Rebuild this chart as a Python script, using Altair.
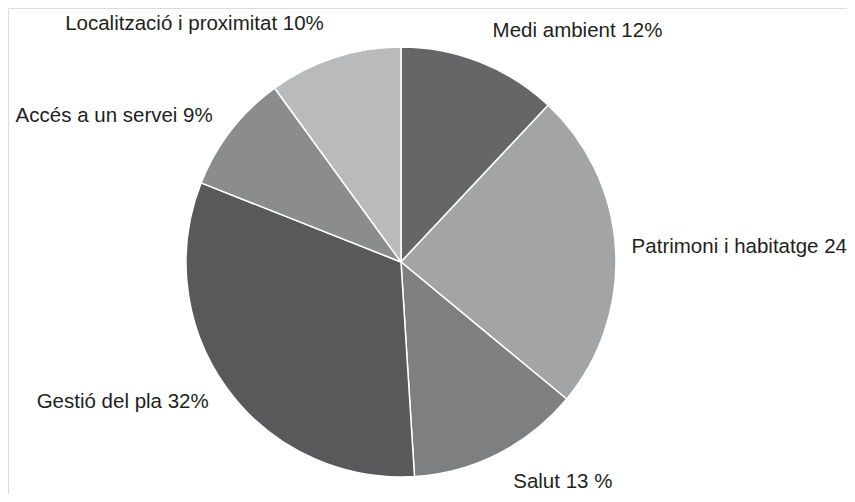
import altair as alt
import pandas as pd

categories = ["Medi ambient", "Patrimoni i habitatge", "Salut", "Gestió del pla",
              "Accés a un servei", "Localització i proximitat"]
values = [12, 24, 13, 32, 9, 10]
labels = ["Medi ambient 12%", "Patrimoni i habitatge 24", "Salut 13 %",
          "Gestió del pla 32%", "Accés a un servei 9%", "Localització i proximitat 10%"]
colors = ["#666668", "#a3a4a6", "#7e7f81", "#59595b", "#8b8c8e", "#b9babc"]

df = pd.DataFrame({
    "cat": categories,
    "value": values,
    "label": labels,
    "idx": list(range(len(categories))),
})

pie = alt.Chart(df).mark_arc(outerRadius=215, stroke="white", strokeWidth=1.5).encode(
    theta=alt.Theta("value:Q", stack=True),
    order=alt.Order("idx:Q"),
    x=alt.value(393),
    y=alt.value(254),
    color=alt.Color("cat:N", scale=alt.Scale(domain=categories, range=colors), legend=None),
)

text = alt.Chart(df).transform_joinaggregate(
    total="sum(value)"
).transform_window(
    cum="sum(value)", sort=[alt.SortField("idx")]
).transform_calculate(
    mid="(datum.cum - datum.value / 2) / datum.total"
).transform_calculate(
    ang="2 * PI * datum.mid",
    # labels placed on an ellipse around the pie
    lr="1 / sqrt(pow(sin(2 * PI * datum.mid) / 231, 2) + pow(cos(2 * PI * datum.mid) / 252, 2))",
).mark_text(
    font="Liberation Sans",
    fontSize=20.5,
    color="#231f20",
    baseline="middle",
    align=alt.expr("datum.mid < 0.5 ? 'left' : 'right'"),
).encode(
    theta=alt.Theta("ang:Q", scale=None, stack=None),
    radius=alt.Radius("lr:Q", scale=None),
    x=alt.value(393),
    y=alt.value(254),
    text="label:N",
)

chart = alt.layer(pie, text).resolve_scale(theta="independent").properties(
    width=839, height=486, padding=0, autosize=alt.AutoSizeParams(type="none")
).configure_view(stroke=None).configure(background="white")

chart.save("out.html", embed_options={"renderer": "svg", "actions": False})
